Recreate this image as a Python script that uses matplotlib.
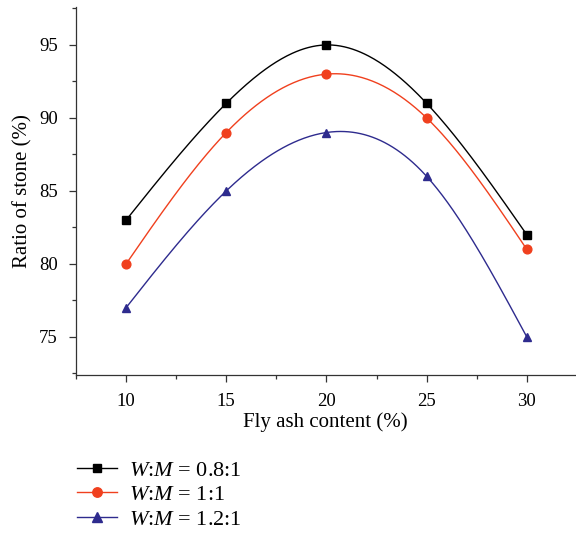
import numpy as np
import matplotlib
matplotlib.use("Agg")
import matplotlib.pyplot as plt
from matplotlib.ticker import MultipleLocator

plt.rcParams["font.family"] = "Liberation Serif"
plt.rcParams["mathtext.fontset"] = "custom"
plt.rcParams["mathtext.rm"] = "Liberation Serif"
plt.rcParams["mathtext.it"] = "Liberation Serif:italic"

fly_ash = [10, 15, 20, 25, 30]
ratio_08 = [83, 91, 95, 91, 82]
ratio_10 = [80, 89, 93, 90, 81]
ratio_12 = [77, 85, 89, 86, 75]
labels = ["$W$:$M$ = 0.8:1", "$W$:$M$ = 1:1", "$W$:$M$ = 1.2:1"]


def natural_spline(x, y, n=300):
    """Natural cubic spline through points (x, y)."""
    x = np.asarray(x, float)
    y = np.asarray(y, float)
    m = len(x)
    h = np.diff(x)
    A = np.zeros((m, m))
    b = np.zeros(m)
    A[0, 0] = A[-1, -1] = 1.0
    for i in range(1, m - 1):
        A[i, i - 1] = h[i - 1]
        A[i, i] = 2 * (h[i - 1] + h[i])
        A[i, i + 1] = h[i]
        b[i] = 6 * ((y[i + 1] - y[i]) / h[i] - (y[i] - y[i - 1]) / h[i - 1])
    M = np.linalg.solve(A, b)
    xs = np.linspace(x[0], x[-1], n)
    idx = np.clip(np.searchsorted(x, xs) - 1, 0, m - 2)
    x0, x1 = x[idx], x[idx + 1]
    hh = x1 - x0
    t0, t1 = x1 - xs, xs - x0
    ys = (M[idx] * t0 ** 3 + M[idx + 1] * t1 ** 3) / (6 * hh) \
        + (y[idx] / hh - M[idx] * hh / 6) * t0 \
        + (y[idx + 1] / hh - M[idx + 1] * hh / 6) * t1
    return xs, ys


fig = plt.figure(figsize=(5.76, 5.37), dpi=100)
ax = fig.add_axes([0.132, 0.302, 0.866, 0.685])

series = [
    (ratio_08, "black", "s", 5.8),
    (ratio_10, "#f0401e", "o", 6.3),
    (ratio_12, "#2e2b8e", "^", 6.3),
]
handles = []
for (vals, color, marker, ms), lab in zip(series, labels):
    xs, ys = natural_spline(fly_ash, vals)
    ax.plot(xs, ys, color=color, lw=1.0, zorder=2)
    ax.plot(fly_ash, vals, ls="none", marker=marker, ms=ms, color=color, zorder=3)
    h, = ax.plot([], [], color=color, lw=1.0, marker=marker, ms=ms + 0.5, label=lab)
    handles.append(h)

ax.set_xlim(7.5, 32.4)
ax.set_ylim(72.4, 97.6)
ax.xaxis.set_major_locator(MultipleLocator(5))
ax.xaxis.set_minor_locator(MultipleLocator(2.5))
ax.yaxis.set_major_locator(MultipleLocator(5))
ax.yaxis.set_minor_locator(MultipleLocator(2.5))
ax.spines["top"].set_visible(False)
ax.spines["right"].set_visible(False)
for s in ("left", "bottom"):
    ax.spines[s].set_linewidth(0.9)
    ax.spines[s].set_color("#333333")
ax.tick_params(which="major", direction="out", length=5, width=0.9, labelsize=13.5,
               color="#333333", pad=8)
ax.tick_params(which="minor", direction="out", length=3, width=0.9, color="#333333")
ax.set_xlabel("Fly ash content (%)", fontsize=15, labelpad=2)
ax.set_ylabel("Ratio of stone (%)", fontsize=15, labelpad=5)

fig.legend(handles=handles, loc="upper left", bbox_to_anchor=(0.118, 0.16),
           frameon=False, fontsize=16, handlelength=1.8, labelspacing=0.18,
           handletextpad=0.55, borderaxespad=0)

fig.savefig("out.png", dpi=100, facecolor="white")
